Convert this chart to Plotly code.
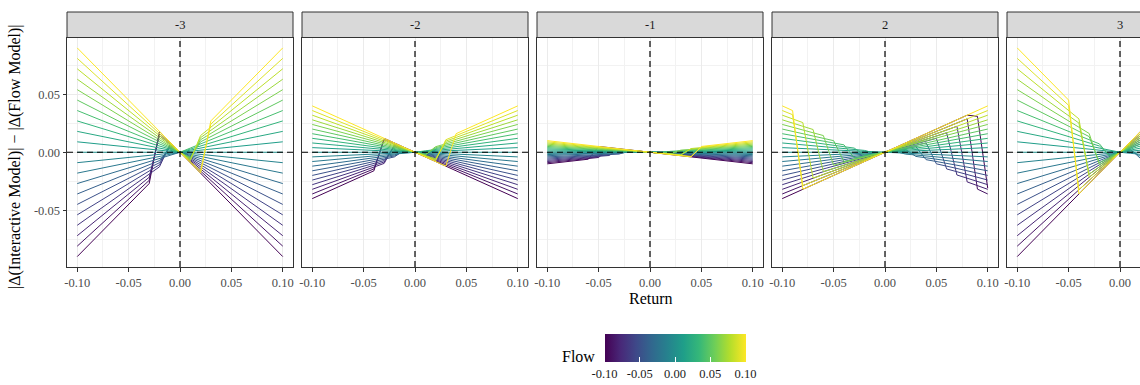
import plotly.graph_objects as go
from plotly.colors import sample_colorscale

# ---------------- data ----------------
FACETS = ["-3", "-2", "-1", "2", "3"]
FLOWS = [-0.10, -0.09, -0.08, -0.07, -0.06, -0.05, -0.04, -0.03, -0.02, -0.01, 0.00,
         0.01, 0.02, 0.03, 0.04, 0.05, 0.06, 0.07, 0.08, 0.09, 0.10]

# each line (one per flow, same order as FLOWS): breakpoints (Return, difference)
LINES_M3 = [
    [(-0.10, -0.090), (-0.03, -0.027), (-0.02, 0.018), (0.10, -0.090)],
    [(-0.10, -0.081), (-0.03, -0.0243), (-0.02, 0.0162), (0.10, -0.081)],
    [(-0.10, -0.072), (-0.03, -0.0216), (-0.02, 0.0144), (0.10, -0.072)],
    [(-0.10, -0.063), (-0.02, -0.0126), (-0.01, 0.0063), (0.10, -0.063)],
    [(-0.10, -0.054), (-0.02, -0.0108), (-0.01, 0.0054), (0.10, -0.054)],
    [(-0.10, -0.045), (-0.02, -0.0090), (-0.01, 0.0045), (0.10, -0.045)],
    [(-0.10, -0.036), (-0.02, -0.0072), (-0.01, 0.0036), (0.10, -0.036)],
    [(-0.10, -0.027), (-0.01, -0.0027), (0.00, 0.0), (0.10, -0.027)],
    [(-0.10, -0.018), (-0.01, -0.0018), (0.00, 0.0), (0.10, -0.018)],
    [(-0.10, -0.009), (-0.01, -0.0009), (0.00, 0.0), (0.10, -0.009)],
    [(-0.10, 0.0), (0.10, 0.0)],
    [(-0.10, 0.009), (0.00, 0.0), (0.01, 0.0009), (0.10, 0.009)],
    [(-0.10, 0.018), (0.00, 0.0), (0.01, 0.0018), (0.10, 0.018)],
    [(-0.10, 0.027), (0.00, 0.0), (0.01, 0.0027), (0.10, 0.027)],
    [(-0.10, 0.036), (0.00, 0.0), (0.01, 0.0036), (0.10, 0.036)],
    [(-0.10, 0.045), (0.01, -0.0045), (0.02, 0.0090), (0.10, 0.045)],
    [(-0.10, 0.054), (0.01, -0.0054), (0.02, 0.0108), (0.10, 0.054)],
    [(-0.10, 0.063), (0.01, -0.0063), (0.02, 0.0126), (0.10, 0.063)],
    [(-0.10, 0.072), (0.01, -0.0072), (0.02, 0.0144), (0.10, 0.072)],
    [(-0.10, 0.081), (0.02, -0.0162), (0.03, 0.0243), (0.10, 0.081)],
    [(-0.10, 0.090), (0.02, -0.0180), (0.03, 0.0270), (0.10, 0.090)],
]

LINES_M2 = [
    [(-0.10, -0.040), (-0.04, -0.0160), (-0.03, 0.0120), (0.10, -0.040)],
    [(-0.10, -0.036), (-0.04, -0.0144), (-0.03, 0.0108), (0.10, -0.036)],
    [(-0.10, -0.032), (-0.03, -0.0096), (-0.02, 0.0064), (0.10, -0.032)],
    [(-0.10, -0.028), (-0.03, -0.0084), (-0.02, 0.0056), (0.10, -0.028)],
    [(-0.10, -0.024), (-0.03, -0.0072), (-0.02, 0.0048), (0.10, -0.024)],
    [(-0.10, -0.020), (-0.02, -0.0040), (-0.01, 0.0020), (0.10, -0.020)],
    [(-0.10, -0.016), (-0.02, -0.0032), (-0.01, 0.0016), (0.10, -0.016)],
    [(-0.10, -0.012), (-0.02, -0.0024), (-0.01, 0.0012), (0.10, -0.012)],
    [(-0.10, -0.008), (-0.01, -0.0008), (0.00, 0.0), (0.10, -0.008)],
    [(-0.10, -0.004), (-0.01, -0.0004), (0.00, 0.0), (0.10, -0.004)],
    [(-0.10, 0.0), (0.10, 0.0)],
    [(-0.10, 0.004), (0.00, 0.0), (0.01, 0.0004), (0.10, 0.004)],
    [(-0.10, 0.008), (0.00, 0.0), (0.01, 0.0008), (0.10, 0.008)],
    [(-0.10, 0.012), (0.00, 0.0), (0.01, 0.0012), (0.10, 0.012)],
    [(-0.10, 0.016), (0.01, -0.0016), (0.02, 0.0032), (0.10, 0.016)],
    [(-0.10, 0.020), (0.01, -0.0020), (0.02, 0.0040), (0.10, 0.020)],
    [(-0.10, 0.024), (0.01, -0.0024), (0.02, 0.0048), (0.10, 0.024)],
    [(-0.10, 0.028), (0.02, -0.0056), (0.03, 0.0084), (0.10, 0.028)],
    [(-0.10, 0.032), (0.02, -0.0064), (0.03, 0.0096), (0.10, 0.032)],
    [(-0.10, 0.036), (0.02, -0.0072), (0.03, 0.0108), (0.10, 0.036)],
    [(-0.10, 0.040), (0.03, -0.0120), (0.04, 0.0160), (0.10, 0.040)],
]

LINES_M1 = [
    [(-0.10, -0.010), (-0.06, -0.0060), (-0.05, 0.0050), (0.10, -0.010)],
    [(-0.10, -0.009), (-0.05, -0.0045), (-0.04, 0.0036), (0.10, -0.009)],
    [(-0.10, -0.008), (-0.05, -0.0040), (-0.04, 0.0032), (0.10, -0.008)],
    [(-0.10, -0.007), (-0.04, -0.0028), (-0.03, 0.0021), (0.10, -0.007)],
    [(-0.10, -0.006), (-0.04, -0.0024), (-0.03, 0.0018), (0.10, -0.006)],
    [(-0.10, -0.005), (-0.03, -0.0015), (-0.02, 0.0010), (0.10, -0.005)],
    [(-0.10, -0.004), (-0.03, -0.0012), (-0.02, 0.0008), (0.10, -0.004)],
    [(-0.10, -0.003), (-0.02, -0.0006), (-0.01, 0.0003), (0.10, -0.003)],
    [(-0.10, -0.002), (-0.02, -0.0004), (-0.01, 0.0002), (0.10, -0.002)],
    [(-0.10, -0.001), (-0.01, -0.0001), (0.00, 0.0), (0.10, -0.001)],
    [(-0.10, 0.0), (0.10, 0.0)],
    [(-0.10, 0.001), (0.00, 0.0), (0.01, 0.0001), (0.10, 0.001)],
    [(-0.10, 0.002), (0.00, 0.0), (0.01, 0.0002), (0.10, 0.002)],
    [(-0.10, 0.003), (0.01, -0.0003), (0.02, 0.0006), (0.10, 0.003)],
    [(-0.10, 0.004), (0.01, -0.0004), (0.02, 0.0008), (0.10, 0.004)],
    [(-0.10, 0.005), (0.02, -0.0010), (0.03, 0.0015), (0.10, 0.005)],
    [(-0.10, 0.006), (0.02, -0.0012), (0.03, 0.0018), (0.10, 0.006)],
    [(-0.10, 0.007), (0.03, -0.0021), (0.04, 0.0028), (0.10, 0.007)],
    [(-0.10, 0.008), (0.03, -0.0024), (0.04, 0.0032), (0.10, 0.008)],
    [(-0.10, 0.009), (0.04, -0.0036), (0.05, 0.0045), (0.10, 0.009)],
    [(-0.10, 0.010), (0.04, -0.0040), (0.05, 0.0050), (0.10, 0.010)],
]

LINES_P2 = [
    [(-0.10, -0.040), (0.08, 0.0320), (0.09, 0.0310), (0.10, -0.0310)],
    [(-0.10, -0.036), (0.08, 0.0288), (0.09, -0.0318), (0.10, -0.036)],
    [(-0.10, -0.032), (0.07, 0.0224), (0.08, -0.0256), (0.10, -0.032)],
    [(-0.10, -0.028), (0.06, 0.0168), (0.07, -0.0196), (0.10, -0.028)],
    [(-0.10, -0.024), (0.05, 0.0120), (0.06, -0.0144), (0.10, -0.024)],
    [(-0.10, -0.020), (0.04, 0.0080), (0.05, -0.0100), (0.10, -0.020)],
    [(-0.10, -0.016), (0.03, 0.0048), (0.04, -0.0064), (0.10, -0.016)],
    [(-0.10, -0.012), (0.02, 0.0024), (0.03, -0.0036), (0.10, -0.012)],
    [(-0.10, -0.008), (0.01, 0.0008), (0.02, -0.0016), (0.10, -0.008)],
    [(-0.10, -0.004), (0.00, 0.0), (0.01, -0.0004), (0.10, -0.004)],
    [(-0.10, 0.0), (0.10, 0.0)],
    [(-0.10, 0.004), (-0.01, 0.0004), (0.00, 0.0), (0.10, 0.004)],
    [(-0.10, 0.008), (-0.02, 0.0016), (-0.01, -0.0008), (0.10, 0.008)],
    [(-0.10, 0.012), (-0.03, 0.0036), (-0.02, -0.0024), (0.10, 0.012)],
    [(-0.10, 0.016), (-0.04, 0.0064), (-0.03, -0.0048), (0.10, 0.016)],
    [(-0.10, 0.020), (-0.05, 0.0100), (-0.04, -0.0080), (0.10, 0.020)],
    [(-0.10, 0.024), (-0.06, 0.0144), (-0.05, -0.0112), (0.10, 0.024)],
    [(-0.10, 0.028), (-0.07, 0.0196), (-0.06, -0.0168), (0.10, 0.028)],
    [(-0.10, 0.032), (-0.08, 0.0256), (-0.07, -0.0224), (0.10, 0.032)],
    [(-0.10, 0.036), (-0.09, 0.0324), (-0.08, -0.0288), (0.10, 0.036)],
    [(-0.10, 0.040), (-0.09, 0.0360), (-0.08, -0.0320), (0.10, 0.040)],
]

LINES_P3 = [
    [(-0.10, -0.090), (0.05, 0.0450), (0.06, -0.0540), (0.10, -0.090)],
    [(-0.10, -0.081), (0.04, 0.0324), (0.05, -0.0405), (0.10, -0.081)],
    [(-0.10, -0.072), (0.04, 0.0288), (0.05, -0.0360), (0.10, -0.072)],
    [(-0.10, -0.063), (0.03, 0.0189), (0.04, -0.0252), (0.10, -0.063)],
    [(-0.10, -0.054), (0.03, 0.0162), (0.04, -0.0216), (0.10, -0.054)],
    [(-0.10, -0.045), (0.02, 0.0090), (0.03, -0.0135), (0.10, -0.045)],
    [(-0.10, -0.036), (0.02, 0.0072), (0.03, -0.0108), (0.10, -0.036)],
    [(-0.10, -0.027), (0.01, 0.0027), (0.02, -0.0054), (0.10, -0.027)],
    [(-0.10, -0.018), (0.01, 0.0018), (0.02, -0.0036), (0.10, -0.018)],
    [(-0.10, -0.009), (0.00, 0.0), (0.01, -0.0009), (0.10, -0.009)],
    [(-0.10, 0.0), (0.10, 0.0)],
    [(-0.10, 0.009), (-0.01, 0.0009), (0.00, 0.0), (0.10, 0.009)],
    [(-0.10, 0.018), (-0.01, 0.0018), (0.00, 0.0), (0.10, 0.018)],
    [(-0.10, 0.027), (-0.02, 0.0054), (-0.01, -0.0027), (0.10, 0.027)],
    [(-0.10, 0.036), (-0.02, 0.0072), (-0.01, -0.0036), (0.10, 0.036)],
    [(-0.10, 0.045), (-0.03, 0.0135), (-0.02, -0.0090), (0.10, 0.045)],
    [(-0.10, 0.054), (-0.03, 0.0162), (-0.02, -0.0108), (0.10, 0.054)],
    [(-0.10, 0.063), (-0.04, 0.0252), (-0.03, -0.0189), (0.10, 0.063)],
    [(-0.10, 0.072), (-0.04, 0.0288), (-0.03, -0.0216), (0.10, 0.072)],
    [(-0.10, 0.081), (-0.05, 0.0405), (-0.04, -0.0324), (0.10, 0.081)],
    [(-0.10, 0.090), (-0.05, 0.0450), (-0.04, -0.0360), (0.10, 0.090)],
]

FACET_LINES = [LINES_M3, LINES_M2, LINES_M1, LINES_P2, LINES_P3]

X_TICKS = [-0.10, -0.05, 0.00, 0.05, 0.10]
X_TICK_TEXT = ["-0.10", "-0.05", "0.00", "0.05", "0.10"]
Y_TICKS = [-0.05, 0.00, 0.05]
Y_TICK_TEXT = ["-0.05", "0.00", "0.05"]
MINOR_TICKS = [-0.075, -0.025, 0.025, 0.075]
FLOW_TICKS = [-0.10, -0.05, 0.00, 0.05, 0.10]
FLOW_TICK_TEXT = ["-0.10", "-0.05", "0.00", "0.05", "0.10"]

# ---------------- layout geometry (pixels) ----------------
W, H = 1140, 385
ML, MR, MT, MB = 67, 0, 12, 118
PW = W - ML - MR
PH = H - MT - MB
PANEL_W, PANEL_GAP = 226, 9
STRIP_H = 25.5
Y_TOP = (PH - STRIP_H) / PH
X_RANGE = [-0.11, 0.11]
Y_RANGE = [-0.099, 0.099]

FONT = "Liberation Serif, DejaVu Serif, serif"
TICK_SIZE = 12.5
TITLE_SIZE = 16

colors = sample_colorscale("Viridis", [(f - FLOWS[0]) / (FLOWS[-1] - FLOWS[0]) for f in FLOWS])

fig = go.Figure()

for p, (label, lines) in enumerate(zip(FACETS, FACET_LINES)):
    ax = "" if p == 0 else str(p + 1)
    for f, col, pts in zip(FLOWS, colors, lines):
        fig.add_trace(go.Scatter(
            x=[q[0] for q in pts], y=[q[1] for q in pts],
            mode="lines", line=dict(color=col, width=1),
            xaxis="x" + ax, yaxis="y" + ax, showlegend=False, hoverinfo="skip"))

    left_px = p * (PANEL_W + PANEL_GAP)
    x0 = left_px / PW
    x1 = min(1.0, (left_px + PANEL_W) / PW)
    xr = list(X_RANGE)
    if x1 >= 1.0:
        xr[1] = X_RANGE[0] + (PW - left_px) * (X_RANGE[1] - X_RANGE[0]) / PANEL_W
    last = p == len(FACETS) - 1

    fig.update_layout({
        "xaxis" + ax: dict(
            domain=[x0, x1], range=xr, anchor="y" + ax,
            tickmode="array", tickvals=X_TICKS, ticktext=X_TICK_TEXT,
            ticks="outside", ticklen=3.5, tickwidth=1, tickcolor="#333333",
            tickfont=dict(family=FONT, size=TICK_SIZE, color="#4D4D4D"),
            showgrid=True, gridcolor="#EBEBEB", gridwidth=1.1,
            minor=dict(tickmode="array", tickvals=MINOR_TICKS, showgrid=True,
                       gridcolor="#F2F2F2", gridwidth=0.6, ticks=""),
            zeroline=False, showline=True, linecolor="#333333", linewidth=1,
            mirror=True),
        "yaxis" + ax: dict(
            domain=[0, Y_TOP], range=Y_RANGE, anchor="x" + ax,
            tickmode="array", tickvals=Y_TICKS, ticktext=Y_TICK_TEXT,
            showticklabels=(p == 0), ticks="outside" if p == 0 else "",
            ticklen=3.5, tickwidth=1, tickcolor="#333333",
            tickfont=dict(family=FONT, size=TICK_SIZE, color="#4D4D4D"),
            showgrid=True, gridcolor="#EBEBEB", gridwidth=1.1,
            minor=dict(tickmode="array", tickvals=MINOR_TICKS, showgrid=True,
                       gridcolor="#F2F2F2", gridwidth=0.6, ticks=""),
            zeroline=False, showline=True, linecolor="#333333", linewidth=1,
            mirror=(not last)),
    })

    # strip
    fig.add_shape(type="rect", xref="paper", yref="paper",
                  x0=x0, x1=(left_px + PANEL_W) / PW, y0=Y_TOP, y1=1.0,
                  fillcolor="#D9D9D9", line=dict(color="#333333", width=1), layer="below")
    fig.add_annotation(xref="paper", yref="paper",
                       x=(left_px + PANEL_W / 2) / PW, y=(Y_TOP + 1) / 2,
                       text=label, showarrow=False, xanchor="center", yanchor="middle",
                       font=dict(family=FONT, size=TICK_SIZE, color="#1A1A1A"))
    # dashed reference lines at 0
    fig.add_shape(type="line", xref="x" + ax, yref="y" + ax + " domain",
                  x0=0, x1=0, y0=0, y1=1, layer="above",
                  line=dict(color="black", width=1.2, dash="6px,4px"))
    fig.add_shape(type="line", xref="x" + ax + " domain", yref="y" + ax,
                  x0=0, x1=1, y0=0, y1=0, layer="above",
                  line=dict(color="black", width=1.2, dash="6px,4px"))

# colour bar (Flow)
BAR_TOP_PX, BAR_H, BAR_LEN, BAR_CX = 333.5, 28, 141, 675
fig.add_trace(go.Scatter(
    x=[0, 0], y=[0, 0], mode="markers", xaxis="x", yaxis="y",
    marker=dict(size=0.1, opacity=0, color=[FLOWS[0], FLOWS[-1]],
                colorscale="Viridis", cmin=FLOWS[0], cmax=FLOWS[-1], showscale=True,
                colorbar=dict(
                    orientation="h", thicknessmode="pixels", thickness=BAR_H,
                    lenmode="pixels", len=BAR_LEN,
                    x=(BAR_CX - ML) / PW, xanchor="center",
                    y=(PH + MT - BAR_TOP_PX) / PH, yanchor="top",
                    xpad=0, ypad=0, outlinewidth=0,
                    tickmode="array", tickvals=FLOW_TICKS, ticktext=FLOW_TICK_TEXT,
                    ticks="inside", ticklen=5, tickcolor="white", tickwidth=1,
                    tickfont=dict(family=FONT, size=TICK_SIZE, color="#1A1A1A"))),
    showlegend=False, hoverinfo="skip"))

# white tick marks along the top edge of the colour bar (as in ggplot's colourbar)
for t in FLOW_TICKS:
    px = BAR_CX - BAR_LEN / 2 + (t - FLOWS[0]) / (FLOWS[-1] - FLOWS[0]) * BAR_LEN
    fig.add_shape(type="line", xref="paper", yref="paper",
                  x0=(px - ML) / PW, x1=(px - ML) / PW,
                  y0=(PH + MT - BAR_TOP_PX) / PH, y1=(PH + MT - BAR_TOP_PX - 5) / PH,
                  line=dict(color="white", width=1), layer="above")

# titles
fig.add_annotation(xref="paper", yref="paper", x=(650.5 - ML) / PW, y=(PH + MT - 298) / PH,
                   text="Return", showarrow=False, xanchor="center", yanchor="middle",
                   font=dict(family=FONT, size=TITLE_SIZE, color="#000000"))
fig.add_annotation(xref="paper", yref="paper", x=(597 - ML) / PW, y=(PH + MT - 356) / PH,
                   text="Flow", showarrow=False, xanchor="right", yanchor="middle",
                   font=dict(family=FONT, size=TITLE_SIZE, color="#000000"))
fig.add_annotation(xref="paper", yref="paper", x=(15 - ML) / PW, y=(PH + MT - 157) / PH,
                   text="|\u0394(Interactive Model)| \u2212 |\u0394(Flow Model)|",
                   textangle=-90, showarrow=False, xanchor="center", yanchor="middle",
                   font=dict(family=FONT, size=TITLE_SIZE, color="#000000"))

fig.update_layout(
    width=W, height=H, margin=dict(l=ML, r=MR, t=MT, b=MB, pad=0),
    paper_bgcolor="white", plot_bgcolor="white", showlegend=False)

fig.write_html("out.html")
